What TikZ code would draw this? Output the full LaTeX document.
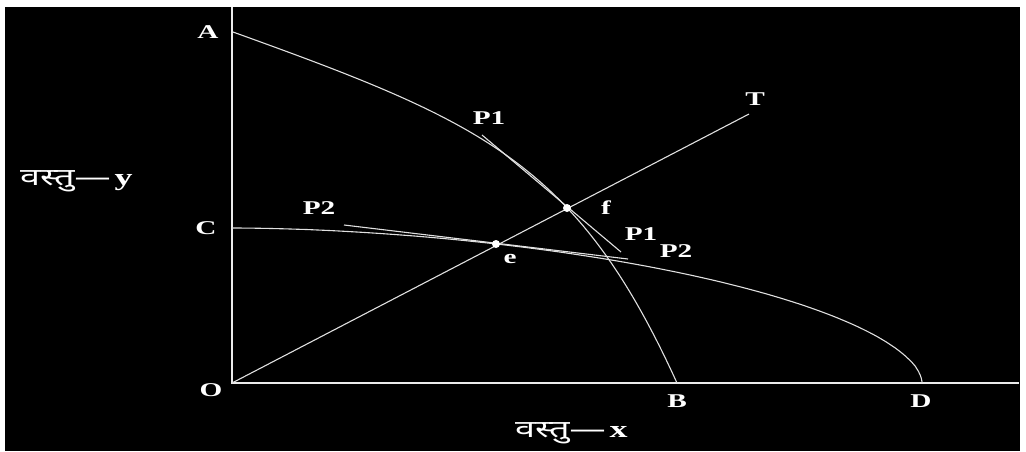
\documentclass[tikz,border=0pt]{standalone}
\usepackage{fontspec}
\newfontfamily\lbl[FakeStretch=1.5]{Liberation Serif}
\newfontfamily\hindi[Script=Devanagari,FakeStretch=1.5]{Noto Sans}
\begin{document}
\begin{tikzpicture}[x=1pt,y=-1pt,
  lab/.style={text=white,inner sep=0pt,font=\lbl\bfseries\fontsize{19.5}{20}\selectfont},
  hlab/.style={text=white,inner sep=0pt,font=\hindi\fontsize{24}{26}\selectfont},
  axisline/.style={draw=white!92!black,line width=1.5pt},
  curveline/.style={draw=white!88!black,line width=1.1pt},
  dotmark/.style={circle,fill=white,inner sep=0pt,minimum size=8pt}]
\useasboundingbox (0,0) rectangle (1026,451);
\fill[white] (0,0) rectangle (1026,451);
\fill[black] (5,7) rectangle (1020,451);
% coordinates
\coordinate (O) at (232,383);
\coordinate (Ytop) at (232,7);
\coordinate (Xend) at (1019,383);
\coordinate (A) at (233,32);
\coordinate (B) at (677,383);
\coordinate (C) at (232,228);
\coordinate (D) at (922,383);
\coordinate (Tend) at (749,114);
\coordinate (P1a) at (482,135);
\coordinate (P1b) at (621,252);
\coordinate (P2a) at (344,225);
\coordinate (P2b) at (628,259);
% axes
\draw[axisline] (Ytop) -- (O) -- (Xend);
% curves
\draw[curveline] (A) .. controls (483,122) and (577,163) .. (B);
\draw[curveline] (C) -- plot[domain=0.05:89.95,samples=120,variable=\t]
  ({232+690*pow(sin(\t),1.1111)},{383-155*pow(cos(\t),1.1111)}) -- (D);
% ray and tangents
\draw[curveline] (O) -- (Tend);
\draw[curveline] (P1a) -- (P1b);
\draw[curveline] (P2a) -- (P2b);
% points
\node[dotmark] (f) at (567,208) {};
\node[dotmark] (e) at (496,244) {};
% labels
\node[lab] (lA) at (208,32) {A};
\node[lab] (lC) at (206,228) {C};
\node[lab] (lO) at (211,390) {O};
\node[lab] (lB) at (677,401) {B};
\node[lab] (lD) at (921,401) {D};
\node[lab] (lT) at (755,99) {T};
\node[lab] (lP1u) at (489,118) {P1};
\node[lab] (lP2l) at (319,208) {P2};
\node[lab] (lP1r) at (641,234) {P1};
\node[lab] (lP2r) at (676,251) {P2};
\node[lab] (lf) at (606,208) {f};
\node[lab] (le) at (510,259) {e};
\node[hlab,anchor=west] (ly) at (20,181) {वस्तु—\,{\lbl\bfseries y}};
\node[hlab,anchor=west] (lx) at (515,433) {वस्तु—\,{\lbl\bfseries x}};
\end{tikzpicture}
\end{document}
